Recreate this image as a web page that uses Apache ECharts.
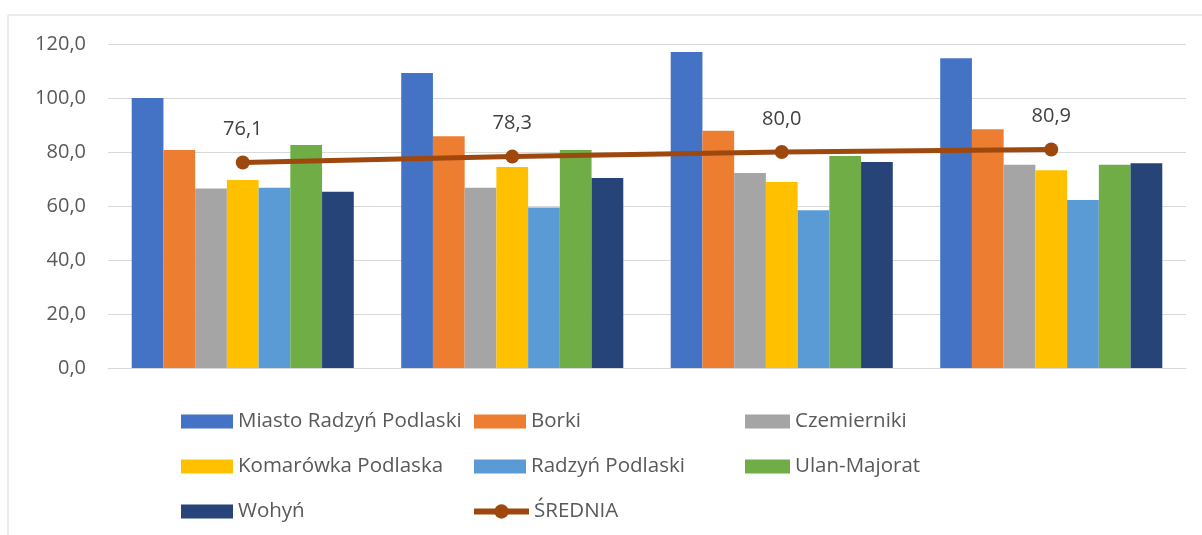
<!DOCTYPE html>
<html>
<head>
<meta charset="utf-8">
<script src="https://cdn.jsdelivr.net/npm/echarts@6/dist/echarts.min.js"></script>
<style>
  html, body { margin: 0; padding: 0; background: #fff; }
  #chart { width: 1202px; height: 535px; }
</style>
</head>
<body>
<div id="chart"></div>
<script>
var categories = ['2019', '2020', '2021', '2022'];

var miastoRadzyn = [100.0, 109.3, 117.0, 114.7];
var borki = [80.7, 85.8, 87.9, 88.4];
var czemierniki = [66.5, 66.8, 72.2, 75.3];
var komarowka = [69.6, 74.4, 68.9, 73.2];
var radzynGmina = [66.8, 59.4, 58.4, 62.2];
var ulanMajorat = [82.6, 80.7, 78.5, 75.3];
var wohyn = [65.3, 70.4, 76.3, 75.8];
var srednia = [76.1, 78.3, 80.0, 80.9];

var yTicks = [0, 20, 40, 60, 80, 100, 120];

var fmt = function (v) { return v.toFixed(1).replace('.', ','); };
var txt = '#595959';
var font = 'Open Sans';
var lineColor = '#9E480E';

var chart = echarts.init(document.getElementById('chart'));

function bar(name, data, color) {
  return {
    name: name,
    type: 'bar',
    data: data,
    barGap: '0%',
    barCategoryGap: '17.6%',
    itemStyle: { color: color },
    emphasis: { disabled: true }
  };
}

function legendCol(left, top, width, height, names) {
  return {
    orient: 'vertical',
    left: left,
    top: top,
    padding: 0,
    itemWidth: width,
    itemHeight: height,
    itemGap: 24,
    selectedMode: false,
    textStyle: { color: txt, fontSize: 20.5, fontFamily: font },
    data: names.map(function (n) {
      if (n === 'ŚREDNIA') {
        return { name: n, lineStyle: { width: 6 }, itemStyle: { color: lineColor } };
      }
      return { name: n, icon: 'rect' };
    })
  };
}

var option = {
  animation: false,
  graphic: [{
    type: 'rect',
    shape: { x: 8, y: 15, width: 1220, height: 540 },
    style: { fill: 'none', stroke: '#D9D9D9', lineWidth: 1 },
    silent: true
  }],
  grid: { left: 108, right: 16, top: 44, bottom: 167 },
  legend: [
    legendCol(181, 411, 52, 14, ['Miasto Radzyń Podlaski', 'Komarówka Podlaska', 'Wohyń']),
    legendCol(474, 411, 52, 14, ['Borki', 'Radzyń Podlaski']),
    legendCol(471, 501, 55, 18, ['ŚREDNIA']),
    legendCol(745, 411, 45, 14, ['Czemierniki', 'Ulan-Majorat'])
  ],
  xAxis: {
    type: 'category',
    data: categories,
    axisLine: { lineStyle: { color: '#D9D9D9', width: 1 } },
    axisTick: { show: false },
    axisLabel: { show: false }
  },
  yAxis: {
    type: 'value',
    min: yTicks[0],
    max: yTicks[yTicks.length - 1],
    interval: 20,
    axisLine: { show: false },
    axisTick: { show: false },
    splitLine: { lineStyle: { color: '#D9D9D9', width: 1 } },
    axisLabel: {
      color: txt,
      fontSize: 20,
      fontFamily: font,
      margin: 22,
      formatter: fmt
    }
  },
  series: [
    bar('Miasto Radzyń Podlaski', miastoRadzyn, '#4472C4'),
    bar('Borki', borki, '#ED7D31'),
    bar('Czemierniki', czemierniki, '#A5A5A5'),
    bar('Komarówka Podlaska', komarowka, '#FFC000'),
    bar('Radzyń Podlaski', radzynGmina, '#5B9BD5'),
    bar('Ulan-Majorat', ulanMajorat, '#70AD47'),
    bar('Wohyń', wohyn, '#264478'),
    {
      name: 'ŚREDNIA',
      type: 'line',
      data: srednia,
      z: 5,
      symbol: 'circle',
      symbolSize: 14,
      lineStyle: { color: lineColor, width: 5 },
      itemStyle: { color: lineColor },
      emphasis: { disabled: true },
      label: {
        show: true,
        position: 'top',
        distance: 16,
        color: '#404040',
        fontSize: 20,
        fontFamily: font,
        formatter: function (p) { return fmt(p.value); }
      }
    }
  ]
};

chart.setOption(option);
</script>
</body>
</html>
